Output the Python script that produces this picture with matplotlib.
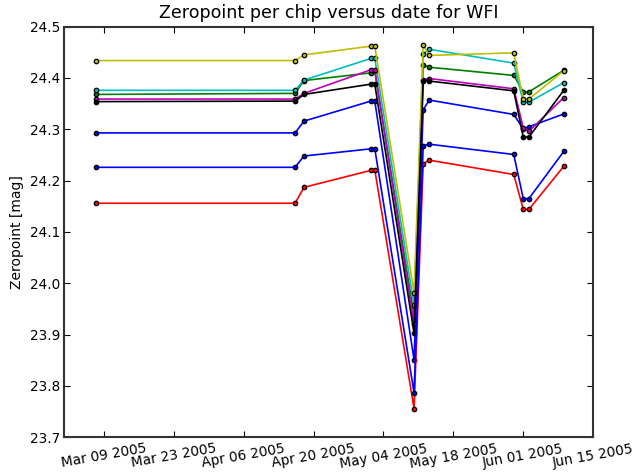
import matplotlib
matplotlib.use('Agg')
import matplotlib.pyplot as plt
import matplotlib.dates as mdates
import pandas as pd

dates = pd.to_datetime(['2005-03-07 07:00', '2005-04-16 07:00', '2005-04-18 02:00',
                        '2005-05-01 12:00', '2005-05-02 07:00', '2005-05-10 04:00',
                        '2005-05-12 00:00', '2005-05-13 05:00', '2005-05-30 04:00',
                        '2005-06-01 02:00', '2005-06-02 05:00', '2005-06-09 05:00'])

chip1 = [24.293, 24.293, 24.316, 24.355, 24.355, 23.851, 24.338, 24.357, 24.329, 24.301, 24.305, 24.330]
chip2 = [24.368, 24.370, 24.395, 24.410, 24.414, 23.937, 24.426, 24.421, 24.405, 24.373, 24.373, 24.415]
chip3 = [24.156, 24.156, 24.187, 24.220, 24.221, 23.756, 24.233, 24.240, 24.212, 24.144, 24.144, 24.228]
chip4 = [24.376, 24.376, 24.396, 24.438, 24.438, 23.957, 24.447, 24.456, 24.429, 24.353, 24.353, 24.391]
chip5 = [24.359, 24.359, 24.370, 24.416, 24.415, 23.920, 24.396, 24.399, 24.379, 24.303, 24.296, 24.362]
chip6 = [24.434, 24.434, 24.445, 24.462, 24.462, 23.982, 24.464, 24.444, 24.449, 24.359, 24.359, 24.414]
chip7 = [24.354, 24.355, 24.368, 24.388, 24.388, 23.903, 24.394, 24.394, 24.375, 24.285, 24.285, 24.376]
chip8 = [24.226, 24.226, 24.248, 24.262, 24.262, 23.787, 24.268, 24.271, 24.251, 24.165, 24.165, 24.257]

chips = [chip1, chip2, chip3, chip4, chip5, chip6, chip7, chip8]
colors = ['b', 'g', 'r', 'c', 'm', 'y', 'k', 'b']

tick_dates = pd.to_datetime(['2005-03-09', '2005-03-23', '2005-04-06', '2005-04-20',
                             '2005-05-04', '2005-05-18', '2005-06-01', '2005-06-15'])

fig = plt.figure(figsize=(6.35, 4.72), dpi=100)
ax = fig.add_axes([0.1013, 0.0735, 0.832, 0.870])

for zp, col in zip(chips, colors):
    ax.plot(dates, zp, '-', color=col, lw=1.2, marker='o', ms=3.2,
            mfc=col, mec='k', mew=0.9)

ax.set_xlim(pd.Timestamp('2005-03-01'), pd.Timestamp('2005-06-15'))
ax.set_ylim(23.7, 24.5)
ax.set_xticks(tick_dates)
ax.xaxis.set_major_formatter(mdates.DateFormatter('%b %d %Y'))
ax.set_yticks([23.7, 23.8, 23.9, 24.0, 24.1, 24.2, 24.3, 24.4, 24.5])
ax.yaxis.set_major_formatter(plt.FormatStrFormatter('%.1f'))

ax.tick_params(direction='in', length=4, width=0.8, top=True, right=True,
               labelsize=9.8, colors='k', pad=3)
for lab in ax.get_xticklabels():
    lab.set_rotation(10)
    lab.set_ha('center')
for sp in ax.spines.values():
    sp.set_linewidth(1.5)
    sp.set_color('#333333')

ax.set_ylabel('Zeropoint [mag]', fontsize=10)
ax.set_title('Zeropoint per chip versus date for WFI', fontsize=12.6)

fig.savefig('out.png', dpi=100)
